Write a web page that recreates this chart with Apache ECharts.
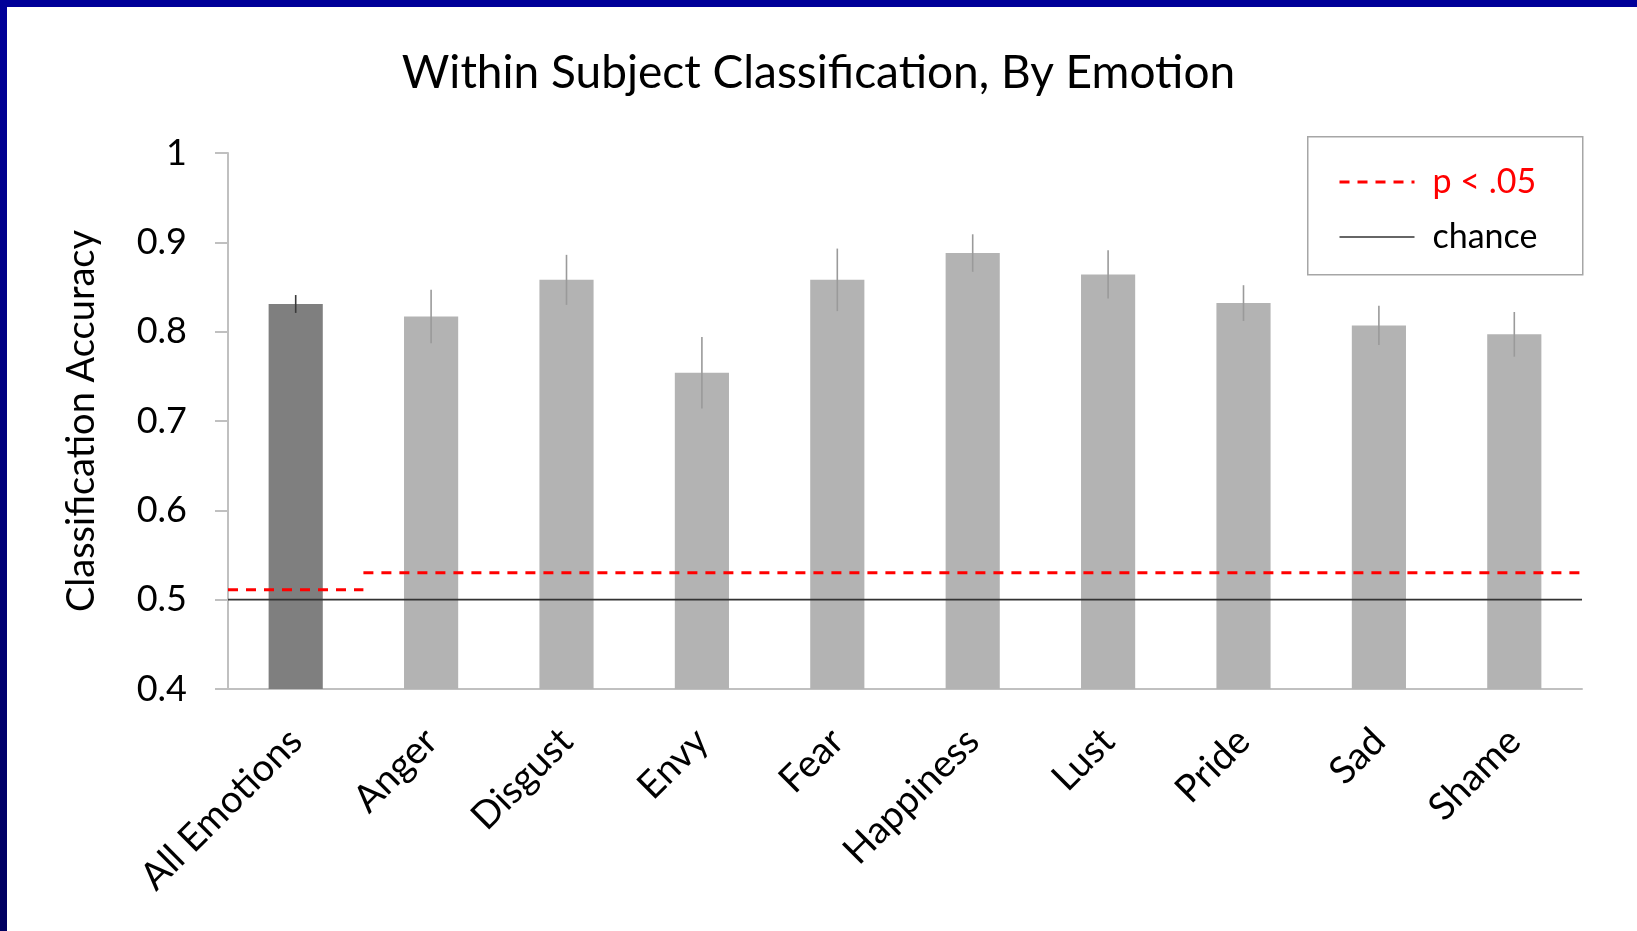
<!DOCTYPE html>
<html>
<head>
<meta charset="utf-8">
<title>Within Subject Classification, By Emotion</title>
<script src="https://cdn.jsdelivr.net/npm/echarts@6/dist/echarts.min.js"></script>
<style>
  html, body { margin: 0; padding: 0; background: #ffffff; }
  #chart { width: 1637px; height: 931px; }
</style>
</head>
<body>
<div id="chart"></div>
<script>
// Categories along the x axis
const categories = ['All Emotions', 'Anger', 'Disgust', 'Envy', 'Fear', 'Happiness', 'Lust', 'Pride', 'Sad', 'Shame'];
// Mean classification accuracy per category
const accuracy = [0.831, 0.817, 0.858, 0.754, 0.858, 0.888, 0.864, 0.832, 0.807, 0.797];
// Half-length of each error bar
const errors = [0.010, 0.030, 0.028, 0.040, 0.035, 0.021, 0.027, 0.020, 0.022, 0.025];
// Significance thresholds (p < .05): pooled category, then single emotions
const pThresholdAll = 0.511;
const pThresholdEach = 0.53;
// Chance level
const chance = 0.5;
// Y axis range and step
const yMin = 0.4, yMax = 1, yStep = 0.1;

const FONT = 'Lato, "Open Sans", sans-serif';
const barColors = categories.map((c, i) => i === 0 ? '#7f7f7f' : '#b3b3b3');
const errColors = categories.map((c, i) => i === 0 ? '#3a3a3a' : '#9a9a9a');

const chart = echarts.init(document.getElementById('chart'), null, { renderer: 'canvas' });

const nCat = categories.length;

const option = {
  backgroundColor: '#ffffff',
  animation: false,
  title: {
    text: 'Within Subject Classification, By Emotion',
    left: 'center',
    top: 45,
    textStyle: { fontFamily: FONT, fontSize: 46, fontWeight: 'normal', color: '#000000' }
  },
  legend: {
    left: 1338,
    top: 163,
    orient: 'vertical',
    itemWidth: 75,
    itemHeight: 30,
    itemGap: 17,
    padding: 0,
    // hide the marker drawn in the middle of the line icon
    itemStyle: { opacity: 0 },
    lineStyle: { width: 3 },
    textStyle: { fontFamily: FONT, fontSize: 34, color: '#000000', lineHeight: 32, padding: [0, 0, 6, 13] },
    data: [
      { name: 'p < .05', textStyle: { color: '#ff0000' } },
      { name: 'chance', lineStyle: { width: 1.6 } }
    ]
  },
  grid: { left: 228, right: 55, top: 153, bottom: 242, containLabel: false },
  xAxis: [
    {
      type: 'category',
      data: categories,
      axisLine: { show: true, lineStyle: { color: '#c0c0c0', width: 2 } },
      axisTick: { show: false },
      axisLabel: {
        rotate: 45,
        margin: 46,
        interval: 0,
        fontFamily: FONT,
        fontSize: 38,
        color: '#000000'
      }
    },
    {
      type: 'value',
      min: 0,
      max: nCat,
      show: false
    }
  ],
  yAxis: {
    type: 'value',
    min: yMin,
    max: yMax,
    interval: yStep,
    name: 'Classification Accuracy',
    nameLocation: 'middle',
    nameGap: 127,
    nameTextStyle: { fontFamily: FONT, fontSize: 38, color: '#000000' },
    axisLine: { show: true, lineStyle: { color: '#c0c0c0', width: 2 } },
    axisTick: { show: true, inside: false, length: 13, lineStyle: { color: '#c0c0c0', width: 2 } },
    splitLine: { show: false },
    axisLabel: {
      margin: 41,
      fontFamily: FONT,
      fontSize: 36,
      color: '#000000',
      formatter: v => String(Math.round(v * 10) / 10)
    }
  },
  series: [
    {
      name: 'accuracy',
      type: 'bar',
      barWidth: '40%',
      data: accuracy.map((v, i) => ({ value: v, itemStyle: { color: barColors[i] } })),
      z: 2
    },
    {
      name: 'error',
      type: 'custom',
      data: accuracy.map((v, i) => [i, v - errors[i], v + errors[i]]),
      renderItem: function (params, api) {
        const idx = api.value(0);
        const lo = api.coord([idx, api.value(1)]);
        const hi = api.coord([idx, api.value(2)]);
        return {
          type: 'line',
          shape: { x1: lo[0], y1: lo[1], x2: hi[0], y2: hi[1] },
          style: { stroke: errColors[idx], lineWidth: 1.6 }
        };
      },
      z: 3
    },
    {
      name: 'chance',
      type: 'line',
      xAxisIndex: 1,
      symbol: 'none',
      data: [[0, chance], [nCat, chance]],
      lineStyle: { color: '#333333', width: 1.6, type: 'solid' },
      itemStyle: { color: '#333333' },
      z: 4
    },
    {
      name: 'p < .05',
      type: 'line',
      xAxisIndex: 1,
      symbol: 'none',
      data: [[0, pThresholdAll], [1, pThresholdAll]],
      lineStyle: { color: '#ff0000', width: 3, type: [10, 8] },
      itemStyle: { color: '#ff0000' },
      z: 5
    },
    {
      name: 'p < .05',
      type: 'line',
      xAxisIndex: 1,
      symbol: 'none',
      data: [[1, pThresholdEach], [nCat, pThresholdEach]],
      lineStyle: { color: '#ff0000', width: 3, type: [10, 8] },
      itemStyle: { color: '#ff0000' },
      z: 5
    }
  ],
  graphic: [
    // slide frame: top band and left band
    { type: 'rect', left: 0, top: 0, shape: { width: 1637, height: 7 }, style: { fill: '#000099' }, silent: true },
    {
      type: 'rect', left: 0, top: 0, shape: { width: 7, height: 931 },
      style: {
        fill: new echarts.graphic.LinearGradient(0, 0, 0, 1, [
          { offset: 0, color: '#000099' },
          { offset: 1, color: '#000060' }
        ])
      },
      silent: true
    },
    // legend frame
    {
      type: 'rect', left: 1307, top: 136, z: 0,
      shape: { width: 275, height: 138 },
      style: { fill: '#ffffff', stroke: '#a6a6a6', lineWidth: 1.5 },
      silent: true
    }
  ]
};

chart.setOption(option);
</script>
</body>
</html>
